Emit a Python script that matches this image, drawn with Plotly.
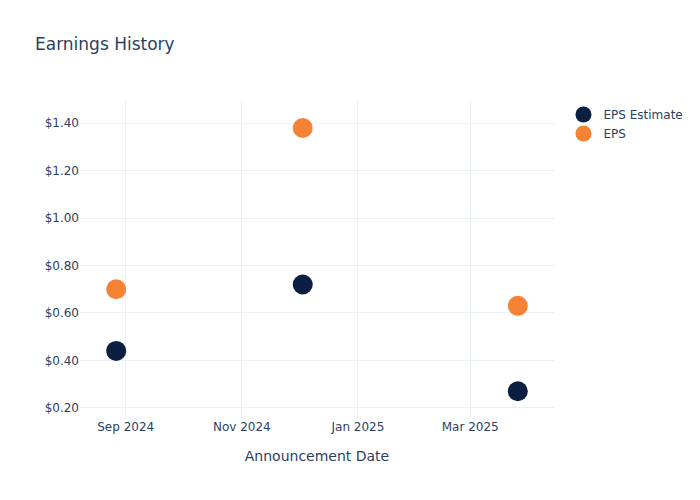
import plotly.graph_objects as go

# quarterly announcement data
dates = ["2024-08-27", "2024-12-03", "2025-03-26"]
eps_estimate = [0.44, 0.72, 0.27]
eps_actual = [0.70, 1.38, 0.63]

navy = "#0b1f42"
orange = "#f58235"

fig = go.Figure()
fig.add_trace(go.Scatter(x=dates, y=eps_estimate, mode="markers", name="EPS Estimate",
                         marker=dict(color=navy, size=20)))
fig.add_trace(go.Scatter(x=dates, y=eps_actual, mode="markers", name="EPS",
                         marker=dict(color=orange, size=20)))

fig.update_layout(
    template="plotly_white",
    width=700, height=500,
    font=dict(family="DejaVu Sans"),
    title=dict(text="Earnings History", x=27/700, y=0.94, font=dict(size=17)),
    margin=dict(l=72, r=154, t=92, b=90),
    xaxis=dict(title=dict(text="Announcement Date", standoff=18),
               range=["2024-08-08", "2025-04-14"],
               dtick="M2", tickformat="%b %Y"),
    yaxis=dict(range=[0.157, 1.498], tickprefix="$", tickformat=".2f", dtick=0.2),
    legend=dict(x=1.02, y=1.0, yanchor="top"),
)

fig.write_html("out.html")
